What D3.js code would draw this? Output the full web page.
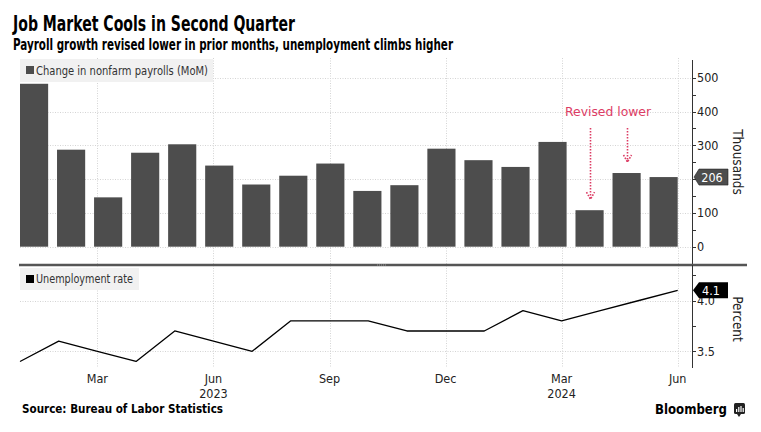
<!DOCTYPE html>
<html>
<head>
<meta charset="utf-8">
<script src="https://cdn.jsdelivr.net/npm/d3@7"></script>
<style>
  html, body { margin: 0; padding: 0; background: #fff; }
  svg { display: block; }
  text { font-family: "DejaVu Sans", sans-serif; font-stretch: condensed; }
</style>
</head>
<body>
<svg id="chart" width="761" height="432"></svg>
<script>
// ---------- data ----------
const months = ["2023-01","2023-02","2023-03","2023-04","2023-05","2023-06","2023-07","2023-08","2023-09",
                "2023-10","2023-11","2023-12","2024-01","2024-02","2024-03","2024-04","2024-05","2024-06"];
const payrolls = [482, 287, 146, 278, 303, 240, 184, 210, 246, 165, 182, 290, 256, 236, 310, 108, 218, 206];
const unemployment = [3.4, 3.6, 3.5, 3.4, 3.7, 3.6, 3.5, 3.8, 3.8, 3.8, 3.7, 3.7, 3.7, 3.9, 3.8, 3.9, 4.0, 4.1];
const xTickMonths = ["2023-03","2023-06","2023-09","2023-12","2024-03","2024-06"];
const xTickLabels = ["Mar","Jun","Sep","Dec","Mar","Jun"];
const yearLabels = [{at: "2023-06", text: "2023"}, {at: "2024-03", text: "2024"}];
const payrollTicks = [0, 100, 200, 300, 400, 500];
const payrollMinor = [50, 150, 250, 350, 450];
const rateTicks = [3.5, 4.0];
const rateMinor = [3.75, 4.25];
const revisedMonths = ["2024-04", "2024-05"];

// ---------- layout ----------
const svg = d3.select("#chart");
const xL = 20, xR = 677.7, axisX = 692;

const xBand = d3.scaleBand().domain(months).range([xL, xR]).paddingInner(0.24).paddingOuter(0);
const xPt = d3.scalePoint().domain(months).range([xL, xR]).padding(0);
const yTop = d3.scaleLinear().domain([0, 500]).range([246.7, 77.7]);
const yBot = d3.scaleLinear().domain([3.5, 4.0]).range([351.3, 300.5]);

function fit(sel, w) { sel.attr("textLength", w).attr("lengthAdjust", "spacingAndGlyphs"); return sel; }

// ---------- titles ----------
fit(svg.append("text").attr("x", 13).attr("y", 31).attr("font-size", 21).attr("font-weight", "bold")
  .attr("fill", "#000").text("Job Market Cools in Second Quarter"), 282);
fit(svg.append("text").attr("x", 13).attr("y", 50).attr("font-size", 15).attr("font-weight", "bold")
  .attr("fill", "#000").text("Payroll growth revised lower in prior months, unemployment climbs higher"), 440);

// ---------- grid ----------
const grid = svg.append("g").attr("stroke", "#d4d4d4").attr("stroke-width", 1).attr("stroke-dasharray", "1,1.5");
grid.selectAll("line.vx").data(xTickMonths).join("line")
  .attr("x1", d => Math.round(xPt(d)) + 0.5).attr("x2", d => Math.round(xPt(d)) + 0.5)
  .attr("y1", 58).attr("y2", 368);
grid.selectAll("line.ht").data(payrollTicks).join("line")
  .attr("x1", xL).attr("x2", axisX).attr("y1", d => Math.round(yTop(d)) + 0.5).attr("y2", d => Math.round(yTop(d)) + 0.5);
grid.selectAll("line.hb").data(rateTicks).join("line")
  .attr("x1", xL).attr("x2", axisX).attr("y1", d => Math.round(yBot(d)) + 0.5).attr("y2", d => Math.round(yBot(d)) + 0.5);

// ---------- legends ----------
svg.append("rect").attr("x", 20).attr("y", 59).attr("width", 193).attr("height", 23).attr("fill", "#f1f1f1");
svg.append("rect").attr("x", 26).attr("y", 66).attr("width", 8).attr("height", 8).attr("fill", "#4d4d4d");
fit(svg.append("text").attr("x", 36).attr("y", 75).attr("font-size", 11.5).attr("fill", "#333")
  .text("Change in nonfarm payrolls (MoM)"), 172);

// ---------- bars ----------
svg.append("g").selectAll("rect").data(months).join("rect")
  .attr("x", d => xBand(d)).attr("width", xBand.bandwidth())
  .attr("y", (d, i) => yTop(payrolls[i])).attr("height", (d, i) => yTop(0) - yTop(payrolls[i]))
  .attr("fill", "#4d4d4d");

// ---------- annotation ----------
const red = "#dc3c64";
const barMid = d => xBand(d) + xBand.bandwidth() / 2;
svg.append("text").attr("x", (barMid(revisedMonths[0]) + barMid(revisedMonths[1])) / 2).attr("y", 116)
  .attr("text-anchor", "middle").attr("font-size", 13).attr("fill", red).text("Revised lower")
  .call(s => fit(s, 86));
revisedMonths.forEach(m => {
  const i = months.indexOf(m);
  const x = Math.round(barMid(m)) + 0.5;
  const yEnd = yTop(payrolls[i]) - 11;
  const g = svg.append("g").attr("stroke", red).attr("stroke-width", 1.6).attr("stroke-dasharray", "1.6,1.4").attr("fill", "none");
  g.append("line").attr("x1", x).attr("x2", x).attr("y1", 128).attr("y2", yEnd);
  g.append("path").attr("d", `M${x - 4},${yEnd - 7}L${x},${yEnd}L${x + 4},${yEnd - 7}`);
});

// ---------- top axis ----------
const lastP = payrolls[payrolls.length - 1];
const yp = yTop(lastP);
const axTop = svg.append("g").attr("stroke", "#333");
axTop.append("line").attr("x1", axisX + 0.5).attr("x2", axisX + 0.5).attr("y1", 60).attr("y2", 265);
axTop.selectAll("line.t").data(payrollTicks.concat(payrollMinor)).join("line")
  .attr("x1", axisX).attr("x2", axisX + 4)
  .attr("y1", d => Math.round(yTop(d)) + 0.5).attr("y2", d => Math.round(yTop(d)) + 0.5);
// labels hidden under the value tag in the reference are skipped
svg.append("g").selectAll("text").data(payrollTicks.filter(d => Math.abs(yTop(d) - yp) > 12)).join("text")
  .attr("x", axisX + 5).attr("y", d => yTop(d)).attr("dy", "0.36em")
  .attr("font-size", 12.5).attr("fill", "#222").text(d => d);
svg.append("text").attr("transform", `translate(733,162) rotate(90)`).attr("text-anchor", "middle")
  .attr("font-size", 13.5).attr("fill", "#222").text("Thousands");

// value tag 206
svg.append("path").attr("d", `M${axisX + 2},${yp}L${axisX + 7},${yp - 8}L728,${yp - 8}L728,${yp + 8}L${axisX + 7},${yp + 8}Z`)
  .attr("fill", "#4d4d4d").attr("stroke", "#222").attr("stroke-width", 0.6);
svg.append("text").attr("x", 712).attr("y", yp).attr("dy", "0.36em").attr("text-anchor", "middle")
  .attr("font-size", 12.5).attr("fill", "#fff").text(lastP);

// ---------- separator ----------
svg.append("line").attr("x1", 19).attr("x2", 747).attr("y1", 265).attr("y2", 265)
  .attr("stroke", "#555").attr("stroke-width", 2.5);
svg.append("line").attr("x1", 377).attr("x2", 386).attr("y1", 265).attr("y2", 265)
  .attr("stroke", "#999").attr("stroke-width", 1).attr("stroke-dasharray", "1,1");

// ---------- bottom legend ----------
svg.append("rect").attr("x", 20).attr("y", 268).attr("width", 119).attr("height", 22).attr("fill", "#f1f1f1");
svg.append("rect").attr("x", 26).attr("y", 275).attr("width", 8).attr("height", 8).attr("fill", "#000");
fit(svg.append("text").attr("x", 36).attr("y", 283).attr("font-size", 11.5).attr("fill", "#333")
  .text("Unemployment rate"), 97);

// ---------- line ----------
svg.append("path").datum(unemployment)
  .attr("d", d3.line().x((d, i) => xPt(months[i])).y(d => yBot(d)))
  .attr("fill", "none").attr("stroke", "#000").attr("stroke-width", 1.3).attr("stroke-linejoin", "round");

// ---------- bottom axis ----------
const lastU = unemployment[unemployment.length - 1];
const yu = yBot(lastU);
const axBot = svg.append("g").attr("stroke", "#333");
axBot.append("line").attr("x1", axisX + 0.5).attr("x2", axisX + 0.5).attr("y1", 265).attr("y2", 368);
axBot.selectAll("line.t").data(rateTicks.concat(rateMinor)).join("line")
  .attr("x1", axisX).attr("x2", axisX + 4)
  .attr("y1", d => Math.round(yBot(d)) + 0.5).attr("y2", d => Math.round(yBot(d)) + 0.5);
svg.append("g").selectAll("text").data(rateTicks).join("text")
  .attr("x", axisX + 5).attr("y", d => yBot(d)).attr("dy", "0.36em")
  .attr("font-size", 12.5).attr("fill", "#222").text(d => d.toFixed(1));
svg.append("text").attr("transform", `translate(733,319) rotate(90)`).attr("text-anchor", "middle")
  .attr("font-size", 13.5).attr("fill", "#222").text("Percent");

// value tag 4.1
svg.append("path").attr("d", `M${axisX + 1},${yu}L${axisX + 7},${yu - 8}L728,${yu - 8}L728,${yu + 8}L${axisX + 7},${yu + 8}Z`)
  .attr("fill", "#000");
svg.append("text").attr("x", 711).attr("y", yu).attr("dy", "0.36em").attr("text-anchor", "middle")
  .attr("font-size", 12.5).attr("fill", "#fff").text(lastU.toFixed(1));

// ---------- x axis labels ----------
svg.append("g").selectAll("text").data(xTickMonths).join("text")
  .attr("x", d => xPt(d)).attr("y", 383).attr("text-anchor", "middle")
  .attr("font-size", 12.5).attr("fill", "#222").text((d, i) => xTickLabels[i]);
svg.append("g").selectAll("text").data(yearLabels).join("text")
  .attr("x", d => xPt(d.at)).attr("y", 398).attr("text-anchor", "middle")
  .attr("font-size", 12.5).attr("fill", "#222").text(d => d.text);

// ---------- footer ----------
fit(svg.append("text").attr("x", 22).attr("y", 413).attr("font-size", 11.5).attr("font-weight", "bold")
  .attr("fill", "#000").text("Source: Bureau of Labor Statistics"), 201);
fit(svg.append("text").attr("x", 655).attr("y", 414).attr("font-size", 14).attr("font-weight", "bold")
  .attr("fill", "#000").text("Bloomberg"), 72);
const logo = svg.append("g");
logo.append("rect").attr("x", 734).attr("y", 403).attr("width", 11).attr("height", 11).attr("rx", 1.5).attr("fill", "#222");
[[736.5, 409, 4], [738.7, 407, 6], [740.9, 406, 7], [743.1, 408, 5]].forEach(b =>
  logo.append("rect").attr("x", b[0] - 0.5).attr("y", b[1]).attr("width", 1.2).attr("height", b[2] - 1).attr("fill", "#fff"));
logo.append("path").attr("d", "M737,414L739,417L741,414Z").attr("fill", "#222");
</script>
</body>
</html>
